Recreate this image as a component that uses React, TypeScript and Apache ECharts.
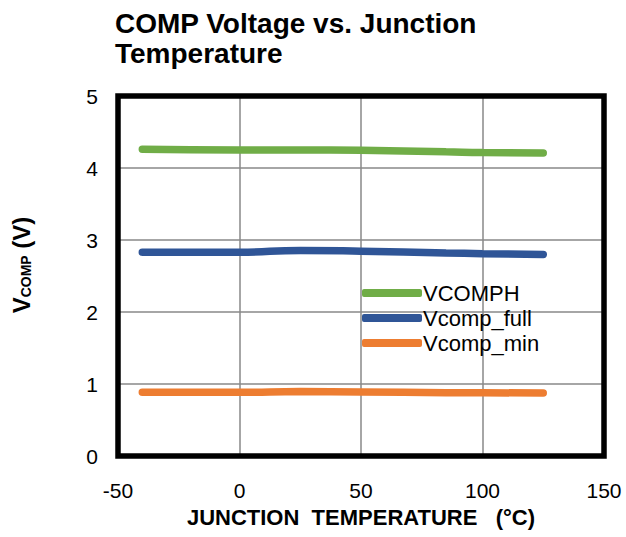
import React, { useEffect, useRef } from "react";
import * as echarts from "echarts";

const temps = [-40, 0, 25, 50, 85, 100, 125];
const vcomph = [4.26, 4.25, 4.25, 4.245, 4.225, 4.215, 4.21];
const vcompFull = [2.83, 2.83, 2.855, 2.845, 2.82, 2.81, 2.8];
const vcompMin = [0.885, 0.885, 0.895, 0.89, 0.88, 0.878, 0.875];
const seriesNames = ["VCOMPH", "Vcomp_full", "Vcomp_min"];
const colors = ["#70AD47", "#2F5597", "#ED7D31"];
const xTicks = { min: -50, max: 150, interval: 50 };
const yTicks = { min: 0, max: 5, interval: 1 };

const FONT = "'Liberation Sans', Arial, sans-serif";
const W = 626;
const H = 537;
const G = { left: 118, right: 22, top: 96, bottom: 81 };

export default function App() {
  const ref = useRef<HTMLDivElement>(null);
  useEffect(() => {
    if (!ref.current) return;
    const chart = echarts.init(ref.current, undefined, { renderer: "svg" });
    const all = [vcomph, vcompFull, vcompMin];
    chart.setOption({
      animation: false,
      backgroundColor: "#fff",
      title: {
        text: "COMP Voltage vs. Junction\nTemperature",
        left: 115,
        top: 8,
        padding: 0,
        textStyle: {
          fontFamily: FONT,
          fontWeight: "bold",
          fontSize: 28,
          lineHeight: 30,
          color: "#000",
        },
      },
      legend: {
        data: seriesNames,
        orient: "vertical",
        left: 362,
        top: 282,
        itemGap: 3,
        itemWidth: 60,
        itemHeight: 8,
        icon: "roundRect",
        padding: 0,
        textStyle: { fontFamily: FONT, fontSize: 22, color: "#000", padding: [0, 0, 0, -4] },
      },
      grid: {
        left: G.left,
        right: G.right,
        top: G.top,
        bottom: G.bottom,
      },
      graphic: [
        {
          type: "rect",
          z: 100,
          silent: true,
          shape: {
            x: G.left,
            y: G.top,
            width: W - G.left - G.right,
            height: H - G.top - G.bottom,
          },
          style: { fill: "none", stroke: "#000", lineWidth: 5.5 },
        },
      ],
      xAxis: {
        type: "value",
        ...xTicks,
        name: "JUNCTION  TEMPERATURE   (°C)",
        nameLocation: "middle",
        nameGap: 50,
        nameTextStyle: { fontFamily: FONT, fontWeight: "bold", fontSize: 22, color: "#000" },
        axisLine: { show: false },
        axisTick: { show: false },
        axisLabel: { fontFamily: FONT, fontSize: 21, color: "#000", margin: 24 },
        splitLine: { show: true, lineStyle: { color: "#898989", width: 1.5 } },
      },
      yAxis: {
        type: "value",
        ...yTicks,
        name: "{v|V}{s|COMP}{v| (V)}",
        nameLocation: "middle",
        nameGap: 85,
        nameTextStyle: {
          padding: [0, 0, 0, 22],
          rich: {
            v: { fontFamily: FONT, fontWeight: "bold", fontSize: 24, color: "#000" },
            s: { fontFamily: FONT, fontWeight: "bold", fontSize: 14, color: "#000", padding: [10, 0, 0, 0] },
          },
        },
        axisLine: { show: false },
        axisTick: { show: false },
        axisLabel: { fontFamily: FONT, fontSize: 21, color: "#000", margin: 20 },
        splitLine: { show: true, lineStyle: { color: "#898989", width: 1.5 } },
      },
      series: seriesNames.map((n, i) => ({
        name: n,
        type: "line",
        smooth: true,
        showSymbol: false,
        symbol: "none",
        data: temps.map((t, j) => [t, all[i][j]]),
        lineStyle: { color: colors[i], width: 7.5, cap: "round" },
        itemStyle: { color: colors[i] },
      })),
    });
    return () => chart.dispose();
  }, []);
  return (
    <div
      ref={ref}
      style={{ position: "absolute", left: 0, top: 0, width: W, height: H }}
    />
  );
}
